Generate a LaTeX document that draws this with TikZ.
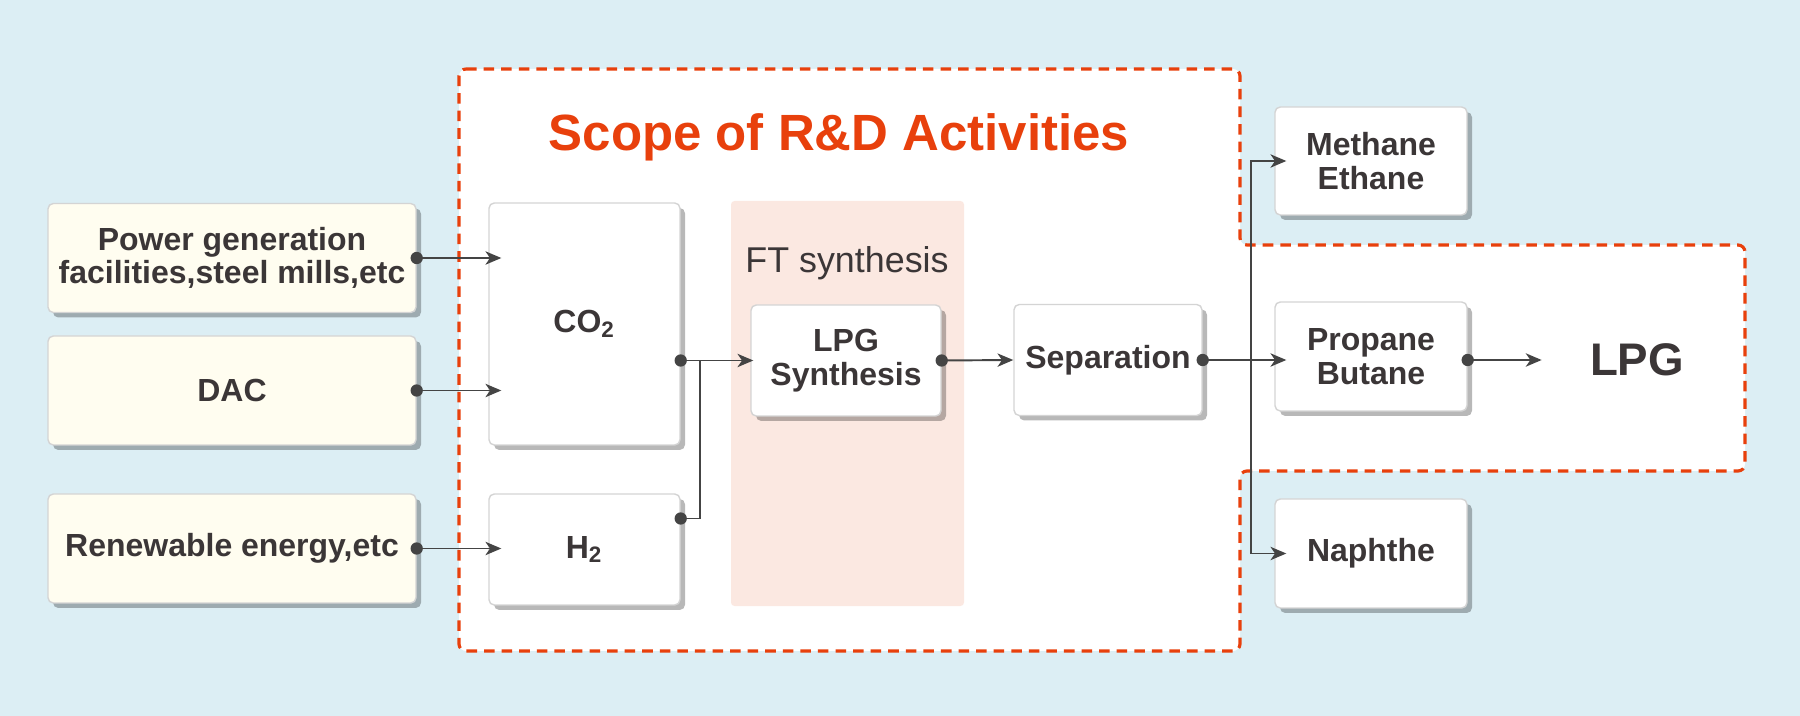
\documentclass[tikz,border=0pt]{standalone}
\usepackage{fontspec}
\setmainfont{Liberation Sans}
\usetikzlibrary{arrows.meta, shadows}

\definecolor{bgblue}{HTML}{DCEEF4}
\definecolor{cream}{HTML}{FFFDF0}
\definecolor{scopered}{HTML}{E8400C}
\definecolor{ftpink}{HTML}{FBE8E1}
\definecolor{ink}{HTML}{3B3637}
\definecolor{wire}{HTML}{444444}
\definecolor{edgegray}{HTML}{D4D4D4}

\begin{document}
\begin{tikzpicture}[
    font=\bfseries\fontsize{9.1}{9.6}\selectfont,
    text=ink,
    basebox/.style={draw=edgegray, line width=0.4pt, rounded corners=1.5pt, inner sep=0pt, align=center,
        drop shadow={shadow xshift=0.05cm, shadow yshift=-0.05cm, fill=black, opacity=0.28}},
    srcbox/.style={basebox, fill=cream, minimum width=3.68cm, minimum height=1.09cm},
    procbox/.style={basebox, fill=white, minimum width=1.91cm, minimum height=1.11cm},
    flow/.style={wire, line width=0.55pt, -{Stealth[length=4.5pt, width=3.8pt, inset=1.3pt]}},
    feed/.style={wire, line width=0.55pt},
    scopeline/.style={draw=scopered, fill=white, line width=0.9pt, dash pattern=on 3pt off 2pt, rounded corners=2pt}
]
    \def\dotr{1.75pt} % radius of the start dots

    % background and margins
    \fill[bgblue] (0,0) rectangle (18,-7.16);
    \useasboundingbox (0,0) rectangle (18,-7.16);

    % scope of R&D (dashed outline, notched out to the right for LPG)
    \draw[scopeline] (4.59,-0.69) -- (12.40,-0.69) -- (12.40,-2.45) -- (17.45,-2.45) -- (17.45,-4.71)
        -- (12.40,-4.71) -- (12.40,-6.51) -- (4.59,-6.51) -- cycle;
    \node[text=scopered, font=\bfseries\fontsize{14.5}{16}\selectfont] (title) at (8.39,-1.37) {Scope of R\&D Activities};

    % FT synthesis band
    \node[fill=ftpink, minimum width=2.33cm, minimum height=4.05cm, inner sep=0pt, rounded corners=1pt] (ft) at (8.475,-4.035) {};
    \node[font=\mdseries\fontsize{10.2}{12}\selectfont] (ftlabel) at (8.47,-2.63) {FT synthesis};

    % sources
    \node[srcbox] (power) at (2.32,-2.58) {Power generation\\facilities,steel mills,etc};
    \node[srcbox] (dac) at (2.32,-3.905) {DAC};
    \node[srcbox] (renew) at (2.32,-5.485) {Renewable energy,etc};

    % process steps
    \node[procbox, minimum height=2.42cm] (co2) at (5.845,-3.24) {CO\textsubscript{2}};
    \node[procbox] (h2) at (5.845,-5.495) {H\textsubscript{2}};
    \node[procbox, minimum width=1.90cm] (lpgsyn) at (8.46,-3.605) {LPG\\Synthesis};
    \node[procbox, minimum width=1.88cm] (sep) at (11.08,-3.60) {Separation};

    % products
    \node[procbox, minimum width=1.92cm, minimum height=1.08cm] (meth) at (13.71,-1.61) {Methane\\Ethane};
    \node[procbox, minimum width=1.92cm, minimum height=1.09cm] (prop) at (13.71,-3.565) {Propane\\Butane};
    \node[procbox, minimum width=1.92cm, minimum height=1.09cm] (naph) at (13.71,-5.535) {Naphthe};
    \node[font=\bfseries\fontsize{13}{15}\selectfont] (lpg) at (16.37,-3.60) {LPG};

    % sources into CO2 / H2
    \draw[flow] (power.east) -- ([xshift=0.13cm]co2.west |- power.east);
    \draw[flow] (dac.east) -- ([xshift=0.13cm]co2.west |- dac.east);
    \draw[flow] (renew.east) -- ([xshift=0.13cm]h2.west |- renew.east);
    \fill[wire] (power.east) circle (\dotr) (dac.east) circle (\dotr) (renew.east) circle (\dotr);

    % CO2 and H2 joined into LPG synthesis
    \coordinate (jn) at (7.00,-3.605);
    \coordinate (h2out) at ([yshift=0.31cm]h2.east);
    \draw[flow] (co2.east |- lpgsyn.west) -- ([xshift=0.03cm]lpgsyn.west);
    \draw[feed] (h2out) -| (jn);
    \fill[wire] (co2.east |- lpgsyn.west) circle (\dotr) (h2out) circle (\dotr);

    % on to separation
    \draw[flow] (lpgsyn.east) -- (sep.west);
    \fill[wire] (lpgsyn.east) circle (\dotr);

    % separation split into products
    \coordinate (br) at (12.51,-3.60);
    \draw[flow] (sep.east) -- ([xshift=0.12cm]prop.west |- sep.east);
    \draw[flow] (br) |- ([xshift=0.12cm]meth.west);
    \draw[flow] (br) |- ([xshift=0.12cm]naph.west);
    \fill[wire] (sep.east) circle (\dotr);

    % propane / butane give LPG
    \draw[flow] (prop.east |- sep.east) -- ([xshift=-0.36cm]lpg.west |- sep.east);
    \fill[wire] (prop.east |- sep.east) circle (\dotr);
\end{tikzpicture}
\end{document}
